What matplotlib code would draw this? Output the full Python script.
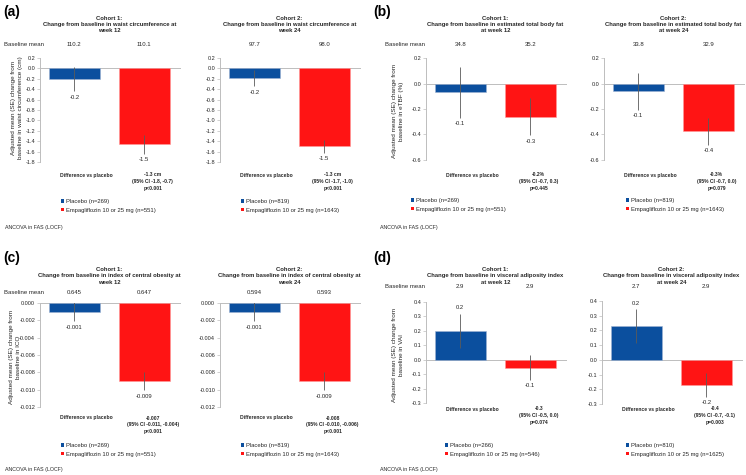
"""Empagliflozin vs placebo: change from baseline in adiposity measures,
two cohorts (week 12 / week 24). Four panels (a)-(d), two bars each.
"""
import numpy as np
import matplotlib.pyplot as plt
from matplotlib.patches import Patch
from matplotlib.transforms import blended_transform_factory

plt.rcParams["font.family"] = ["Liberation Sans", "DejaVu Sans"]
plt.rcParams["axes.unicode_minus"] = False

W, H = 746, 475
BLUE = "#0b4f9e"
RED = "#ff1414"
AXIS_GREY = "#bdbdbd"
ERR_GREY = "#5a5a5a"
TXT = "#262626"

# ---- data -----------------------------------------------------------------
# (a) waist circumference (cm)
waist_c1_mean = [-0.21, -1.46]
waist_c1_se = [0.23, 0.18]
waist_c1_base = ["110.2", "110.1"]
waist_c1_n = [269, 551]
waist_c1_diff = ["-1.3 cm", "(95% CI -1.8, -0.7)", "p<0.001"]

waist_c2_mean = [-0.19, -1.50]
waist_c2_se = [0.15, 0.12]
waist_c2_base = ["97.7", "98.0"]
waist_c2_n = [819, 1643]
waist_c2_diff = ["-1.3 cm", "(95% CI -1.7, -1.0)", "p<0.001"]

# (b) estimated total body fat (%)
etbf_c1_mean = [-0.07, -0.26]
etbf_c1_se = [0.20, 0.145]
etbf_c1_base = ["34.8", "35.2"]
etbf_c1_n = [269, 551]
etbf_c1_diff = ["-0.2%", "(95% CI -0.7, 0.3)", "p=0.445"]

etbf_c2_mean = [-0.06, -0.375]
etbf_c2_se = [0.145, 0.105]
etbf_c2_base = ["33.8", "32.9"]
etbf_c2_n = [819, 1643]
etbf_c2_diff = ["-0.3%", "(95% CI -0.7, 0.0)", "p=0.079"]

# (c) index of central obesity
ico_c1_mean = [-0.001, -0.009]
ico_c1_se = [0.0011, 0.00105]
ico_c1_base = ["0.645", "0.647"]
ico_c1_n = [269, 551]
ico_c1_diff = ["-0.007", "(95% CI -0.011, -0.004)", "p<0.001"]

ico_c2_mean = [-0.001, -0.009]
ico_c2_se = [0.0011, 0.00105]
ico_c2_base = ["0.594", "0.593"]
ico_c2_n = [819, 1643]
ico_c2_diff = ["-0.008", "(95% CI -0.010, -0.006)", "p<0.001"]

# (d) visceral adiposity index
vai_c1_mean = [0.20, -0.055]
vai_c1_se = [0.12, 0.085]
vai_c1_base = ["2.9", "2.9"]
vai_c1_n = [266, 546]
vai_c1_diff = ["-0.3", "(95% CI -0.5, 0.0)", "p=0.074"]

vai_c2_mean = [0.23, -0.17]
vai_c2_se = [0.115, 0.08]
vai_c2_base = ["2.7", "2.9"]
vai_c2_n = [810, 1625]
vai_c2_diff = ["-0.4", "(95% CI -0.7, -0.1)", "p=0.003"]

# ---- layout (pixels, y measured from top) ----------------------------------
XLIM = (-0.49, 1.52)
UNIT = 70          # px per category step
AX_W = (XLIM[1] - XLIM[0]) * UNIT


def fig_x(px):
    return px / W


def fig_y(py):
    return 1 - py / H


def pt(px):
    return px * 72 / 100


def draw_panel(fig, p):
    left, top, bottom = p["box"]
    ax = fig.add_axes([fig_x(left), fig_y(bottom), AX_W / W, (bottom - top) / H])
    x = np.arange(2)
    ax.bar(x, p["mean"], width=0.72, color=[BLUE, RED],
           edgecolor=["#9fb4d2", "#ff9a9a"], linewidth=0.4, zorder=2)
    ax.errorbar(x, p["mean"], yerr=p["se"], fmt="none", ecolor=ERR_GREY,
                elinewidth=0.6, capsize=0, zorder=3)
    ax.axhline(0, color=AXIS_GREY, lw=0.7, zorder=1)

    lo, hi, step, dec = p["yaxis"]
    nt = int(round((hi - lo) / step))
    ticks = np.round(lo + step * np.arange(nt + 1), 6)
    ax.set_xlim(*XLIM)
    ax.set_ylim(lo, hi)
    ax.set_yticks(ticks)
    ax.set_yticklabels([f"{t + 0:.{dec}f}" for t in ticks])
    ax.set_xticks([])
    for s in ("top", "right", "bottom"):
        ax.spines[s].set_visible(False)
    ax.spines["left"].set_color(AXIS_GREY)
    ax.spines["left"].set_linewidth(0.7)
    ax.tick_params(axis="y", labelsize=4.0, length=2, width=0.5,
                   color=AXIS_GREY, labelcolor=TXT, pad=1.5)
    ax.set_facecolor("none")

    # value labels at the end of the error bars
    for i, (m, s) in enumerate(zip(p["mean"], p["se"])):
        sign = 1 if m >= 0 else -1
        ax.annotate(f"{m:.{dec}f}", (i, m + sign * s),
                    xytext=(0, sign * pt(6)), textcoords="offset points",
                    ha="center", va="center", fontsize=4.2, color=TXT)

    tr = blended_transform_factory(ax.transData, fig.transFigure)
    for i, b in enumerate(p["base"]):
        ax.text(i, fig_y(p["base_y"]), b, transform=tr, ha="center",
                va="center", fontsize=4.3, color=TXT)

    ax.text(0.5, fig_y(p["title_y"]), p["title"], transform=tr,
            ha="center", va="center", fontsize=4.2, fontweight="bold",
            linespacing=1.3, color=TXT)

    dy = p["diff_y"]
    ax.text(0.17, fig_y(dy), "Difference vs placebo", transform=tr,
            ha="center", va="center", fontsize=3.6, fontweight="bold", color=TXT)
    ax.text(1.12, fig_y(dy - 2.5), "\n".join(p["diff"]), transform=tr,
            ha="center", va="top", fontsize=3.6, fontweight="bold",
            linespacing=1.45, color=TXT)

    handles = [Patch(facecolor=BLUE), Patch(facecolor=RED)]
    labels = [f"Placebo (n={p['n'][0]})",
              f"Empagliflozin 10 or 25 mg (n={p['n'][1]})"]
    lx, ly = p["leg"]
    fig.legend(handles, labels, loc="upper left",
               bbox_to_anchor=(fig_x(lx - 2), fig_y(ly - 3)),
               frameon=False, fontsize=4.2, handlelength=0.55,
               handleheight=0.55, handletextpad=0.25, labelspacing=0.65,
               borderpad=0, borderaxespad=0, labelcolor=TXT)
    return ax


def title(cohort, text1, text2):
    return f"Cohort {cohort}:\n{text1}\n{text2}"


panels = [
    dict(box=(40, 58, 162), mean=waist_c1_mean, se=waist_c1_se,
         base=waist_c1_base, n=waist_c1_n, diff=waist_c1_diff,
         yaxis=(-1.8, 0.2, 0.2, 1), base_y=44, title_y=24.5, diff_y=175,
         leg=(63, 202),
         title=title(1, "Change from baseline in waist circumference at", "week 12")),
    dict(box=(220, 58, 162), mean=waist_c2_mean, se=waist_c2_se,
         base=waist_c2_base, n=waist_c2_n, diff=waist_c2_diff,
         yaxis=(-1.8, 0.2, 0.2, 1), base_y=44, title_y=24.5, diff_y=175,
         leg=(243, 202),
         title=title(2, "Change from baseline in waist circumference at", "week 24")),
    dict(box=(426, 58, 160), mean=etbf_c1_mean, se=etbf_c1_se,
         base=etbf_c1_base, n=etbf_c1_n, diff=etbf_c1_diff,
         yaxis=(-0.6, 0.2, 0.2, 1), base_y=44, title_y=24.5, diff_y=175,
         leg=(413, 201),
         title=title(1, "Change from baseline in estimated total body fat", "at week 12")),
    dict(box=(604, 58, 160), mean=etbf_c2_mean, se=etbf_c2_se,
         base=etbf_c2_base, n=etbf_c2_n, diff=etbf_c2_diff,
         yaxis=(-0.6, 0.2, 0.2, 1), base_y=44, title_y=24.5, diff_y=175,
         leg=(628, 201),
         title=title(2, "Change from baseline in estimated total body fat", "at week 24")),
    dict(box=(40, 303, 407), mean=ico_c1_mean, se=ico_c1_se,
         base=ico_c1_base, n=ico_c1_n, diff=ico_c1_diff,
         yaxis=(-0.012, 0.0, 0.002, 3), base_y=292, title_y=276, diff_y=418,
         leg=(63, 446),
         title=title(1, "Change from baseline in index of central obesity at", "week 12")),
    dict(box=(220, 303, 407), mean=ico_c2_mean, se=ico_c2_se,
         base=ico_c2_base, n=ico_c2_n, diff=ico_c2_diff,
         yaxis=(-0.012, 0.0, 0.002, 3), base_y=292, title_y=276, diff_y=418,
         leg=(243, 446),
         title=title(2, "Change from baseline in index of central obesity at", "week 24")),
    dict(box=(426, 302, 403), mean=vai_c1_mean, se=vai_c1_se,
         base=vai_c1_base, n=vai_c1_n, diff=vai_c1_diff,
         yaxis=(-0.3, 0.4, 0.1, 1), base_y=287, title_y=276, diff_y=409,
         leg=(447, 446),
         title=title(1, "Change from baseline in visceral adiposity index", "at week 12")),
    dict(box=(602, 301, 404), mean=vai_c2_mean, se=vai_c2_se,
         base=vai_c2_base, n=vai_c2_n, diff=vai_c2_diff,
         yaxis=(-0.3, 0.4, 0.1, 1), base_y=287, title_y=276, diff_y=409,
         leg=(628, 446),
         title=title(2, "Change from baseline in visceral adiposity index", "at week 24")),
]

# per quadrant: letter, letter pos, "Baseline mean" pos, y label, its centre, ANCOVA pos
quadrants = [
    ("(a)", (3, 12), (4, 44),
     "Adjusted mean (SE) change from\nbaseline in waist circumference (cm)",
     (17, 108), (5, 227)),
    ("(b)", (373, 12), (385, 44),
     "Adjusted mean (SE) change from\nbaseline in eTBF (%)",
     (398, 111), (380, 227)),
    ("(c)", (3, 258), (4, 292),
     "Adjusted mean (SE) change from\nbaseline in ICO",
     (15, 357), (5, 469)),
    ("(d)", (373, 258), (385, 287),
     "Adjusted mean (SE) change from\nbaseline in VAI",
     (398, 355), (380, 469)),
]

fig = plt.figure(figsize=(W / 100, H / 100), dpi=100, facecolor="white")

for p in panels:
    draw_panel(fig, p)

for letter, lpos, bpos, ylab, ypos, apos in quadrants:
    fig.text(fig_x(lpos[0]), fig_y(lpos[1]), letter, ha="left", va="center",
             fontsize=10, fontweight="bold", color="black")
    fig.text(fig_x(bpos[0]), fig_y(bpos[1]), "Baseline mean", ha="left",
             va="center", fontsize=4.3, color=TXT)
    fig.text(fig_x(ypos[0]), fig_y(ypos[1]), ylab, rotation=90, ha="center",
             va="center", fontsize=4.6, linespacing=1.3,
             multialignment="center", color=TXT)
    fig.text(fig_x(apos[0]), fig_y(apos[1]), "ANCOVA in FAS (LOCF)", ha="left",
             va="center", fontsize=3.8, color=TXT)

fig.savefig("out.png", dpi=100, facecolor="white")
